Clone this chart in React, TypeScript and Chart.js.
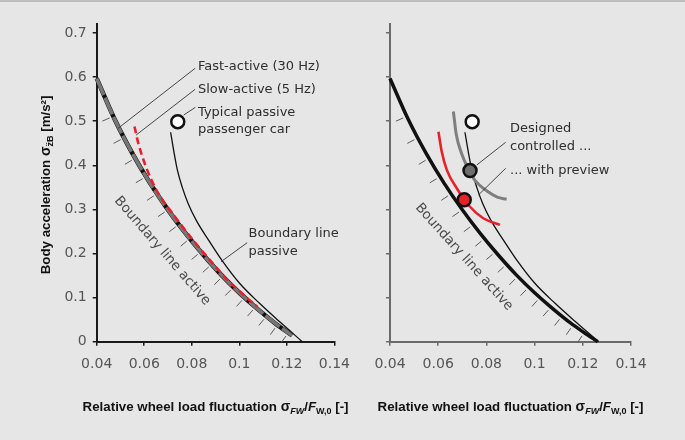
import React, { useEffect, useRef } from 'react';
import { Chart, registerables } from 'chart.js';
Chart.register(...registerables);

// ---------- data ----------
const X_TICKS = [0.04, 0.06, 0.08, 0.1, 0.12, 0.14];
const Y_TICKS = [0, 0.1, 0.2, 0.3, 0.4, 0.5, 0.6, 0.7];

// Boundary line active (right panel, full)
const ACTIVE_X = [0.04, 0.0475, 0.055, 0.0625, 0.07, 0.0775, 0.085, 0.0925, 0.1, 0.1075, 0.115, 0.1205, 0.1262];
const ACTIVE_Y = [0.597, 0.505, 0.427, 0.359, 0.299, 0.245, 0.196, 0.151, 0.111, 0.075, 0.042, 0.021, 0.0];

// Fast-active (30 Hz) / boundary line active in left panel
const FAST_X = [0.04, 0.0475, 0.055, 0.0625, 0.07, 0.0775, 0.085, 0.0925, 0.1, 0.1075, 0.115, 0.1222];
const FAST_Y = [0.597, 0.505, 0.427, 0.359, 0.299, 0.245, 0.196, 0.151, 0.111, 0.075, 0.042, 0.014];

// Slow-active (5 Hz)
const SLOW_X = [0.0559, 0.0575, 0.0607, 0.0655, 0.072, 0.080, 0.087, 0.095, 0.102, 0.1075];
const SLOW_Y = [0.488, 0.450, 0.397, 0.340, 0.290, 0.234, 0.189, 0.140, 0.105, 0.080];

// Boundary line passive
const PASSIVE_X = [0.0711, 0.0725, 0.0740, 0.0760, 0.0785, 0.0820, 0.0870, 0.0930, 0.1000, 0.1085, 0.1170, 0.1265];
const PASSIVE_Y = [0.475, 0.430, 0.388, 0.350, 0.313, 0.274, 0.231, 0.182, 0.133, 0.087, 0.045, 0.000];

// Designed controlled (gray) and with preview (red)
const CONTROLLED_X = [0.0663, 0.0675, 0.0697, 0.0722, 0.0751, 0.0807, 0.0845, 0.0884];
const CONTROLLED_Y = [0.522, 0.470, 0.427, 0.395, 0.367, 0.340, 0.328, 0.323];
const PREVIEW_X = [0.0601, 0.0615, 0.0636, 0.0677, 0.0732, 0.0787, 0.0856];
const PREVIEW_Y = [0.476, 0.430, 0.389, 0.348, 0.306, 0.280, 0.265];

// Operating points
const CAR_X = [0.0741];
const CAR_Y = [0.499];
const CTRL_PT_X = [0.0732];
const CTRL_PT_Y = [0.388];
const PREV_PT_X = [0.0708];
const PREV_PT_Y = [0.322];

// ---------- styling ----------
const LIGHT = "'DejaVu Sans', sans-serif";
const BOLD = "bold 13.3px 'Liberation Sans', Arial, sans-serif";
const BOLD_SUB = "bold 9px 'Liberation Sans', Arial, sans-serif";
const BOLD_SUB_I = "italic bold 9px 'Liberation Sans', Arial, sans-serif";
const BOLD_I = "italic bold 13.3px 'Liberation Sans', Arial, sans-serif";
const BOLD_SIG = "bold 14px 'Liberation Sans', Arial, sans-serif";

const zip = (xs: number[], ys: number[]) => xs.map((x, i) => ({ x, y: ys[i] }));
const fmt = (v: number) => String(Math.round(v * 100) / 100);

type Seg = { t: string; font: string; dy?: number };

function drawRich(ctx: CanvasRenderingContext2D, segs: Seg[], cx: number, cy: number, angle: number, color: string) {
  ctx.save();
  ctx.translate(cx, cy);
  ctx.rotate(angle);
  let total = 0;
  const widths = segs.map((s) => {
    ctx.font = s.font;
    const w = ctx.measureText(s.t).width;
    total += w;
    return w;
  });
  let xx = -total / 2;
  ctx.fillStyle = color;
  ctx.textAlign = 'left';
  ctx.textBaseline = 'alphabetic';
  segs.forEach((s, i) => {
    ctx.font = s.font;
    ctx.fillText(s.t, xx, 4.5 + (s.dy || 0));
    xx += widths[i];
  });
  ctx.restore();
}

const X_TITLE: Seg[] = [
  { t: 'Relative wheel load fluctuation ', font: BOLD },
  { t: 'σ', font: BOLD_SIG },
  { t: 'FW', font: BOLD_SUB_I, dy: 3 },
  { t: '/', font: BOLD },
  { t: 'F', font: BOLD_I },
  { t: 'W,0', font: BOLD_SUB, dy: 3 },
  { t: ' [-]', font: BOLD },
];
const Y_TITLE: Seg[] = [
  { t: 'Body acceleration ', font: BOLD },
  { t: 'σ', font: BOLD_SIG },
  { t: 'z\u0308B', font: BOLD_SUB, dy: 3 },
  { t: ' [m/s²]', font: BOLD },
];

const annoPlugin = {
  id: 'anno',
  beforeDatasetsDraw(chart: any) {
    const o = chart.options.plugins.anno;
    if (!o || !o.hatch) return;
    const { ctx } = chart;
    const xs = chart.scales.x, ys = chart.scales.y;
    const h = o.hatch;
    const cx: number[] = h.xs, cy: number[] = h.ys;
    ctx.save();
    ctx.strokeStyle = '#5a5a5a';
    ctx.lineWidth = 1;
    for (let v = h.start; v <= h.end + 1e-9; v += h.step) {
      let i = 0;
      while (i < cx.length - 2 && cx[i + 1] < v) i++;
      const t = (v - cx[i]) / (cx[i + 1] - cx[i]);
      const yv = cy[i] + t * (cy[i + 1] - cy[i]);
      const px = xs.getPixelForValue(v), py = ys.getPixelForValue(yv);
      const dx = xs.getPixelForValue(cx[i + 1]) - xs.getPixelForValue(cx[i]);
      const dy = ys.getPixelForValue(cy[i + 1]) - ys.getPixelForValue(cy[i]);
      const L = Math.hypot(dx, dy);
      const nx = -dy / L, ny = dx / L;
      ctx.beginPath();
      ctx.moveTo(px + nx * h.d0, py + ny * h.d0);
      ctx.lineTo(px + nx * h.d1, py + ny * h.d1);
      ctx.stroke();
    }
    ctx.restore();
  },
  afterDatasetsDraw(chart: any) {
    const o = chart.options.plugins.anno;
    if (!o) return;
    const { ctx, chartArea } = chart;
    const xs = chart.scales.x, ys = chart.scales.y;
    ctx.save();
    ctx.strokeStyle = '#333';
    ctx.lineWidth = 0.9;
    (o.leaders || []).forEach((l: number[]) => {
      ctx.beginPath();
      ctx.moveTo(xs.getPixelForValue(l[0]), ys.getPixelForValue(l[1]));
      ctx.lineTo(xs.getPixelForValue(l[2]), ys.getPixelForValue(l[3]));
      ctx.stroke();
    });
    ctx.fillStyle = '#2e2e2e';
    ctx.font = `13px ${LIGHT}`;
    ctx.textAlign = 'left';
    ctx.textBaseline = 'middle';
    (o.texts || []).forEach((t: any) => {
      ctx.fillText(t.t, xs.getPixelForValue(t.x), ys.getPixelForValue(t.y));
    });
    if (o.rotated) {
      const r = o.rotated;
      ctx.save();
      ctx.translate(xs.getPixelForValue(r.x), ys.getPixelForValue(r.y));
      ctx.rotate((r.angle * Math.PI) / 180);
      ctx.fillStyle = '#4a4a4a';
      ctx.font = `13.5px ${LIGHT}`;
      ctx.textAlign = 'center';
      ctx.textBaseline = 'middle';
      ctx.fillText(r.t, 0, 0);
      ctx.restore();
    }
    ctx.restore();
    drawRich(ctx, X_TITLE, (chartArea.left + chartArea.right) / 2, o.xTitleY, 0, '#111');
    if (o.yTitleX) drawRich(ctx, Y_TITLE, o.yTitleX, (chartArea.top + chartArea.bottom) / 2 + 2, -Math.PI / 2, '#111');
  },
};

function lineDs(xs: number[], ys: number[], color: string, width: number, order: number, dash: number[] = []) {
  return {
    data: zip(xs, ys),
    showLine: true,
    borderColor: color,
    borderWidth: width,
    borderDash: dash,
    pointRadius: 0,
    cubicInterpolationMode: 'monotone',
    fill: false,
    order,
    clip: false,
    borderCapStyle: 'butt',
  };
}
function pointDs(xs: number[], ys: number[], fillC: string, order: number) {
  return {
    data: zip(xs, ys),
    showLine: false,
    pointRadius: 6.5,
    pointBackgroundColor: fillC,
    pointBorderColor: '#111',
    pointBorderWidth: 2.5,
    order,
    clip: false,
  };
}

function scales(axisColor: string, yWidth: number, showYLabels: boolean) {
  return {
    x: {
      type: 'linear',
      min: 0.04,
      max: 0.14,
      afterBuildTicks: (s: any) => { s.ticks = X_TICKS.map((v) => ({ value: v })); },
      afterFit: (s: any) => { s.height = 40; },
      ticks: { callback: (v: any) => fmt(Number(v)), font: { family: LIGHT, size: 14 }, color: '#555', padding: 10, maxRotation: 0, autoSkip: false },
      grid: { drawOnChartArea: false, drawTicks: true, tickLength: 4, color: axisColor, lineWidth: 1.5 },
      border: { display: true, color: axisColor, width: 2 },
    },
    y: {
      type: 'linear',
      min: 0,
      max: 0.72,
      afterBuildTicks: (s: any) => { s.ticks = Y_TICKS.map((v) => ({ value: v })); },
      afterFit: (s: any) => { s.width = yWidth; },
      ticks: { display: showYLabels, callback: (v: any) => fmt(Number(v)), font: { family: LIGHT, size: 14 }, color: '#555', padding: 6 },
      grid: { drawOnChartArea: false, drawTicks: true, tickLength: 4, color: axisColor, lineWidth: 1.5 },
      border: { display: true, color: axisColor, width: 2 },
    },
  };
}

const HATCH_START = 0.047;
const HATCH_STEP = 0.0046;

function leftConfig(): any {
  return {
    type: 'scatter',
    data: {
      datasets: [
        lineDs(FAST_X, FAST_Y, '#111', 4.5, 6),
        lineDs(FAST_X, FAST_Y, '#777', 3.6, 5, [18, 3]),
        lineDs(SLOW_X, SLOW_Y, '#e8202a', 2.6, 4, [7, 4]),
        lineDs(PASSIVE_X, PASSIVE_Y, '#111', 1.3, 3),
        pointDs(CAR_X, CAR_Y, '#ffffff', 1),
      ],
    },
    options: {
      responsive: false,
      animation: false,
      devicePixelRatio: 1,
      layout: { padding: { left: 0, right: 23, top: 24.2, bottom: 440 - 341.7 - 40 } },
      scales: scales('#1a1a1a', 96.7, true),
      plugins: {
        legend: { display: false },
        tooltip: { enabled: false },
        anno: {
          hatch: { xs: FAST_X, ys: FAST_Y, start: HATCH_START, step: HATCH_STEP, end: 0.1215, d0: 4, d1: 12 },
          leaders: [
            [0.0490, 0.4839, 0.0814, 0.620],
            [0.0566, 0.4687, 0.0814, 0.5723],
            [0.0766, 0.514, 0.0815, 0.5315],
            [0.0923, 0.1814, 0.1033, 0.2245],
          ],
          texts: [
            { t: 'Fast-active (30 Hz)', x: 0.0826, y: 0.6236 },
            { t: 'Slow-active (5 Hz)', x: 0.0826, y: 0.5723 },
            { t: 'Typical passive', x: 0.0826, y: 0.5193 },
            { t: 'passenger car', x: 0.0826, y: 0.480 },
            { t: 'Boundary line', x: 0.1039, y: 0.2458 },
            { t: 'passive', x: 0.1039, y: 0.2041 },
          ],
          rotated: { t: 'Boundary line active', x: 0.0676, y: 0.2057, angle: 49 },
          xTitleY: 406.7,
          yTitleX: 45,
        },
      },
    },
    plugins: [annoPlugin],
  };
}

function rightConfig(): any {
  return {
    type: 'scatter',
    data: {
      datasets: [
        lineDs(ACTIVE_X, ACTIVE_Y, '#111', 3.5, 6),
        lineDs(PASSIVE_X, PASSIVE_Y, '#111', 1.3, 5),
        lineDs(CONTROLLED_X, CONTROLLED_Y, '#7f7f7f', 3, 4),
        lineDs(PREVIEW_X, PREVIEW_Y, '#e8202a', 2.6, 3),
        pointDs(CAR_X, CAR_Y, '#ffffff', 1),
        pointDs(CTRL_PT_X, CTRL_PT_Y, '#6e6e6e', 1),
        pointDs(PREV_PT_X, PREV_PT_Y, '#e8202a', 1),
      ],
    },
    options: {
      responsive: false,
      animation: false,
      devicePixelRatio: 1,
      layout: { padding: { left: 0, right: 54, top: 24.2, bottom: 440 - 341.7 - 40 } },
      scales: scales('#6a6a6a', 50, false),
      plugins: {
        legend: { display: false },
        tooltip: { enabled: false },
        anno: {
          hatch: { xs: ACTIVE_X, ys: ACTIVE_Y, start: HATCH_START, step: HATCH_STEP, end: 0.1235, d0: 4, d1: 12 },
          leaders: [
            [0.0760, 0.4007, 0.0880, 0.4522],
            [0.0767, 0.3327, 0.0880, 0.3932],
          ],
          texts: [
            { t: 'Designed', x: 0.0898, y: 0.4839 },
            { t: 'controlled ...', x: 0.0898, y: 0.4422 },
            { t: '... with preview', x: 0.0898, y: 0.3878 },
          ],
          rotated: { t: 'Boundary line active', x: 0.0707, y: 0.192, angle: 48 },
          xTitleY: 406.7,
        },
      },
    },
    plugins: [annoPlugin],
  };
}

export default function App() {
  const lRef = useRef<HTMLCanvasElement>(null);
  const rRef = useRef<HTMLCanvasElement>(null);
  useEffect(() => {
    const a = new Chart(lRef.current as HTMLCanvasElement, leftConfig());
    const b = new Chart(rRef.current as HTMLCanvasElement, rightConfig());
    return () => {
      a.destroy();
      b.destroy();
    };
  }, []);
  return (
    <div style={{ position: 'fixed', left: 0, top: 0, width: 685, height: 440, background: '#e6e6e6', overflow: 'hidden' }}>
      <div style={{ position: 'absolute', left: 0, top: 0, width: 685, height: 2, background: '#bdbdbd' }} />
      <canvas ref={lRef} width={360} height={440} style={{ position: 'absolute', left: 0, top: 0 }} />
      <canvas ref={rRef} width={345} height={440} style={{ position: 'absolute', left: 340, top: 0 }} />
    </div>
  );
}
